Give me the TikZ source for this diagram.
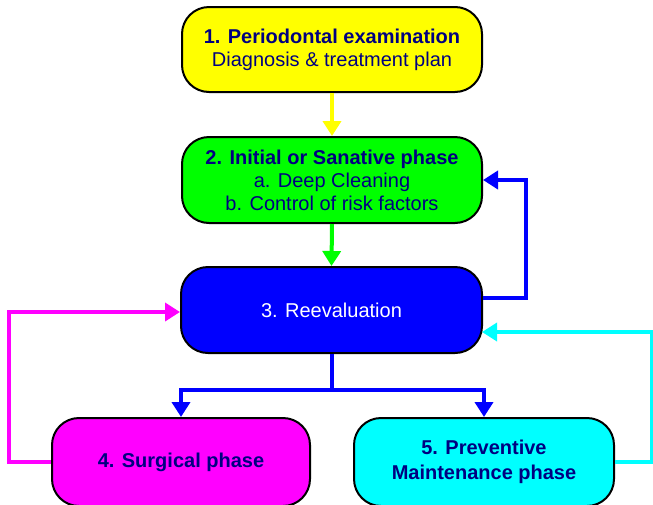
\documentclass[tikz,border=0pt]{standalone}
\usepackage{fontspec}
\setmainfont{Liberation Sans}
\usetikzlibrary{arrows.meta}
\definecolor{navytext}{RGB}{0,0,128}
\definecolor{cyellow}{RGB}{255,255,0}
\definecolor{cgreen}{RGB}{0,255,0}
\definecolor{cblue}{RGB}{0,0,255}
\definecolor{cmagenta}{RGB}{255,0,255}
\definecolor{ccyan}{RGB}{0,255,255}
\tikzset{
  phase/.style={draw=black, line width=2pt, rounded corners=27pt, minimum width=300pt,
    align=center, text=navytext, font=\fontsize{20}{23}\selectfont, inner sep=0pt},
  conn/.style={line width=4pt, -{Triangle[width=18pt,length=15pt]}},
}
\begin{document}
\begin{tikzpicture}[x=1pt,y=-1pt]
\useasboundingbox (0,0) rectangle (653,504);
\clip (0,0) rectangle (653,504);
\fill[white] (0,0) rectangle (653,504);

\node[phase, fill=cyellow, minimum height=85pt] (b1) at (332,49.5)
  {\textbf{1. Periodontal examination}\\Diagnosis \& treatment plan};
\node[phase, fill=cgreen, minimum height=86pt] (b2) at (332,180)
  {\textbf{2. Initial or Sanative phase}\\a. Deep Cleaning\\b. Control of risk factors};
\node[phase, fill=cblue, text=white, minimum height=86pt, minimum width=301pt] (b3) at (331.5,310)
  {3. Reevaluation};
\node[phase, fill=cmagenta, minimum height=88pt, minimum width=258pt] (b4) at (181,462)
  {\textbf{4. Surgical phase}};
\node[phase, fill=ccyan, minimum height=88pt, minimum width=260pt] (b5) at (484,462)
  {\textbf{5. Preventive}\\[2pt]\textbf{Maintenance phase}};

\draw[conn, cyellow] (b1.south) -- (b2.north);
\draw[conn, cgreen] (b2.south) -- (b3.north);
\draw[conn, cblue] ([yshift=12pt]b3.east) -- ++(43,0) |- (b2.east);
\draw[conn, ccyan, line width=3.5pt] (b5.east) -- ++(37,0) |- ([yshift=-22pt,xshift=-1pt]b3.east);
\draw[conn, cmagenta] (b4.west) -- ++(-42,0) |- ([yshift=-2pt]b3.west);
\coordinate (split) at ([yshift=-36pt]b3.south);
\draw[line width=4pt, cblue] (b3.south) -- (split);
\draw[conn, cblue] (split) -| (b4.north);
\draw[conn, cblue] (split) -| (b5.north);
\end{tikzpicture}
\end{document}
